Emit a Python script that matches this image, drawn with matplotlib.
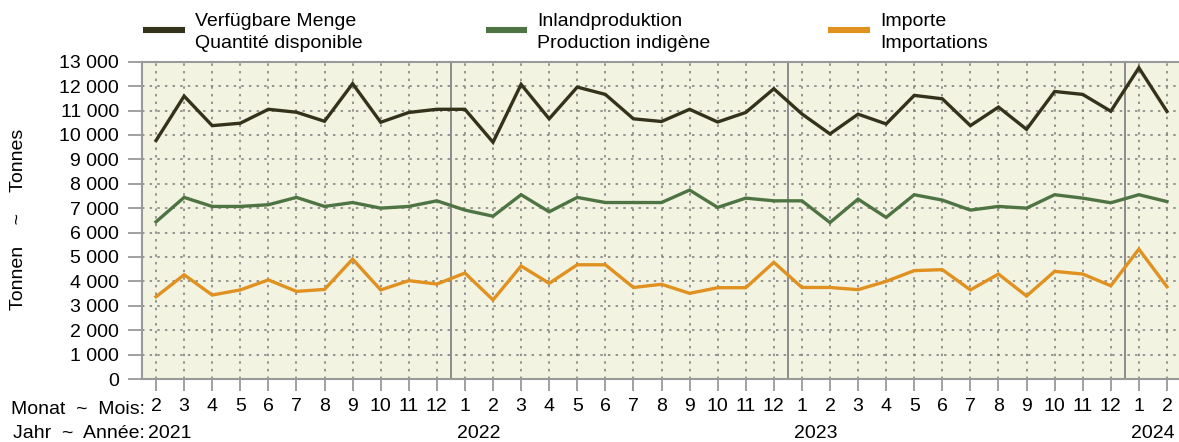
import matplotlib
matplotlib.use("Agg")
import matplotlib.pyplot as plt
from matplotlib.lines import Line2D
from matplotlib.ticker import FuncFormatter, MultipleLocator

# Monthly series, February 2021 to February 2024 (tonnes)
months = [2, 3, 4, 5, 6, 7, 8, 9, 10, 11, 12,
          1, 2, 3, 4, 5, 6, 7, 8, 9, 10, 11, 12,
          1, 2, 3, 4, 5, 6, 7, 8, 9, 10, 11, 12,
          1, 2]
year_labels = {0: "2021", 11: "2022", 23: "2023", 35: "2024"}

available = [9770, 11590, 10380, 10480, 11050, 10930, 10560, 12100, 10520, 10920, 11050,
             11050, 9700, 12070, 10660, 11960, 11660, 10660, 10550, 11050, 10530, 10920, 11890,
             10860, 10040, 10850, 10450, 11620, 11480, 10380, 11140, 10230, 11780, 11660, 10970,
             12750, 10960]
domestic = [6440, 7440, 7070, 7070, 7140, 7440, 7070, 7230, 7000, 7070, 7300,
            6920, 6670, 7550, 6850, 7440, 7230, 7230, 7230, 7740, 7030, 7410, 7300,
            7300, 6410, 7370, 6620, 7550, 7330, 6920, 7070, 7000, 7550, 7410, 7220,
            7550, 7270]
imports = [3370, 4270, 3440, 3650, 4060, 3590, 3670, 4910, 3650, 4030, 3890,
           4340, 3240, 4630, 3920, 4680, 4680, 3750, 3880, 3510, 3740, 3740, 4780,
           3750, 3750, 3660, 4000, 4440, 4480, 3650, 4300, 3400, 4410, 4300, 3820,
           5320, 3780]

series = [
    (available, "#34321a", "Verfügbare Menge", "Quantité disponible"),
    (domestic, "#4f7443", "Inlandproduktion", "Production indigène"),
    (imports, "#e0911f", "Importe", "Importations"),
]

plt.rcParams["font.family"] = ["Liberation Sans", "DejaVu Sans"]
FS = 14

W, H = 1179, 442
fig = plt.figure(figsize=(W / 100, H / 100), dpi=100)

x0, x1, y_top, y_bot = 142, 1181, 61.7, 379
ax = fig.add_axes([x0 / W, (H - y_bot) / H, (x1 - x0) / W, (y_bot - y_top) / H])
ax.set_facecolor("#f3f3e2")

xs = list(range(len(months)))
for values, color, _, _ in series:
    ax.plot(xs, values, color=color, lw=2.4, solid_joinstyle="miter", zorder=3)

ax.set_xlim(-0.5, len(months) - 0.5)
ax.set_ylim(0, 13000)
ax.yaxis.set_major_locator(MultipleLocator(1000))
ax.yaxis.set_major_formatter(FuncFormatter(lambda v, _: f"{int(v):,}".replace(",", " ")))
ax.set_xticks(xs)
ax.set_xticklabels([str(m) for m in months])

ax.grid(True, color="#7a7a7a", linestyle=(0, (1.6, 3.4)), lw=1.1, zorder=1)
ax.set_axisbelow(True)

for sep in (10.5, 22.5, 34.5):
    ax.axvline(sep, color="#8c8c8c", lw=1.4, zorder=2)

for side in ("left", "top", "bottom"):
    ax.spines[side].set_color("#999999")
    ax.spines[side].set_linewidth(1.5)
ax.spines["right"].set_visible(False)

ax.tick_params(axis="x", length=8.6, width=1.3, color="#999999", labelsize=FS, pad=5)
ax.tick_params(axis="y", length=10, width=1.3, color="#999999", labelsize=FS, pad=6.5)

# Year labels below the month labels
xt = ax.get_xaxis_transform()
for idx, yr in year_labels.items():
    ax.text(idx + 0.5, -(433 - y_bot) / (y_bot - y_top), yr, transform=xt,
            ha="center", va="center", fontsize=FS)

fig.text(145 / W, 1 - 409 / H, "Monat  ~  Mois:", ha="right", va="center", fontsize=FS)
fig.text(145 / W, 1 - 433 / H, "Jahr  ~  Année:", ha="right", va="center", fontsize=FS)

fig.text(19 / W, 1 - 219 / H, "Tonnen    ~    Tonnes", rotation=90,
         ha="center", va="center", fontsize=FS)

# Legend across the top
legend_x = [(143, 185, 195), (486, 527, 537), (828, 870, 880)]
for (hx0, hx1, tx), (_, color, de, fr) in zip(legend_x, series):
    fig.add_artist(Line2D([hx0 / W, hx1 / W], [1 - 30 / H, 1 - 30 / H],
                          color=color, lw=4.4, solid_capstyle="butt"))
    fig.text(tx / W, 1 - 21.7 / H, de, ha="left", va="center", fontsize=FS)
    fig.text(tx / W, 1 - 44 / H, fr, ha="left", va="center", fontsize=FS)

fig.savefig("out.png", dpi=100)
